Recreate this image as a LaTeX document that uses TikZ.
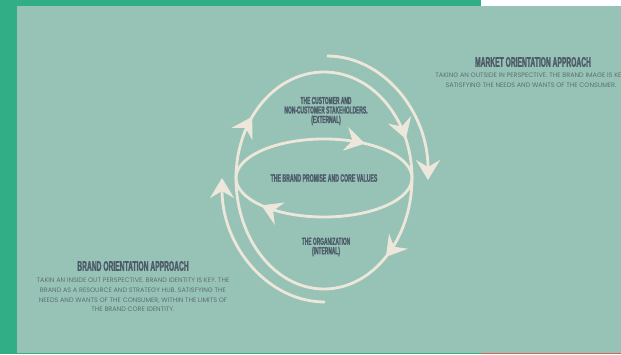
\documentclass[tikz,border=0pt]{standalone}
\usepackage{fontspec}
\setmainfont{Poppins}
\newfontfamily\headfont{Liberation Sans}[FakeStretch=0.48,BoldFeatures={FakeBold=1.6}]
\usetikzlibrary{arrows.meta,decorations.markings,shapes.geometric}
\definecolor{panel}{HTML}{97C3B7}
\definecolor{frame}{HTML}{32AE86}
\definecolor{cream}{HTML}{EDE7DB}
\definecolor{ink}{HTML}{4E5C6A}
\definecolor{bodyink}{HTML}{5E6E72}
\definecolor{accent}{HTML}{D0665A}
\tikzset{
  flowtip/.tip={Stealth[length=20bp,width=24bp,inset=7bp]},
  loop/.style={color=cream,line width=2.8bp},
  heading/.style={text=ink,inner sep=0,align=center,
    font=\headfont\bfseries\fontsize{14}{14}\selectfont},
  circlelabel/.style={text=ink,inner sep=0,align=center,
    font=\headfont\bfseries\fontsize{10.2}{9.5}\selectfont},
  bodytext/.style={text=bodyink,inner sep=0,align=center,
    font=\fontsize{6.5}{9.6}\selectfont},
}
\begin{document}
\begin{tikzpicture}[x=1bp,y=1bp]
\useasboundingbox (0,0) rectangle (621,354);
\clip (0,0) rectangle (621,354);
% frame and panel
\fill[frame] (0,0) rectangle (621,354);
\fill[white] (481,348) rectangle (621,354);
\fill[accent] (481,0) rectangle (621,1.5);
\fill[panel] (17.3,1.5) rectangle (621,348);

% core values ellipse
\node[ellipse,minimum width=176bp,minimum height=78bp,inner sep=0,outer sep=0,
  circlelabel,font=\headfont\bfseries\fontsize{10.8}{10.8}\selectfont]
  (core) at (324,176) {THE BRAND PROMISE AND CORE VALUES};
\draw[loop,postaction={decorate},decoration={markings,
    mark=at position 0.35 with {\arrow{flowtip}},
    mark=at position 0.905 with {\arrow{flowtip}}}]
  (core.west) arc[start angle=180,end angle=-180,x radius=88,y radius=39];

% external half loop
\draw[loop,postaction={decorate},decoration={markings,
    mark=at position 0.21 with {\arrow{flowtip}},
    mark=at position 0.87 with {\arrow{flowtip}}}]
  (core.west) arc[start angle=180,end angle=0,x radius=88,y radius=106];
% internal half loop
\draw[loop,postaction={decorate},decoration={markings,
    mark=at position 0.27 with {\arrow{flowtip}}}]
  (core.east) arc[start angle=0,end angle=-180,x radius=88,y radius=111];

% outer orientation arrows
\coordinate (mstart) at (327,298);
\coordinate (bstart) at (325,52);
\draw[loop,-flowtip] (mstart) arc[start angle=90,end angle=0,x radius=101,y radius=124];
\draw[loop,-flowtip] (bstart) arc[start angle=-90,end angle=-180,x radius=103,y radius=124];

% loop labels
\node[circlelabel] (ext) at (326,243) {THE CUSTOMER AND\\NON-CUSTOMER STAKEHOLDERS.\\(EXTERNAL)};
\node[circlelabel] (org) at (326,107) {THE ORGANIZATION\\(INTERNAL)};

% market orientation text
\node[heading] (mtitle) at (533,292) {MARKET ORIENTATION APPROACH};
\node[bodytext] (mtext) at (531,274) {TAKING AN OUTSIDE IN PERSPECTIVE. THE BRAND IMAGE IS KEY.\\SATISFYING THE NEEDS AND WANTS OF THE CONSUMER.};

% brand orientation text
\node[heading] (btitle) at (133,88) {BRAND ORIENTATION APPROACH};
\node[bodytext] (btext) at (133,59) {TAKIN AN INSIDE OUT PERSPECTIVE. BRAND IDENTITY IS KEY. THE\\BRAND AS A RESOURCE AND STRATEGY HUB. SATISFYING THE\\NEEDS AND WANTS OF THE CONSUMER, WITHIN THE LIMITS OF\\THE BRAND CORE IDENTITY.};
\end{tikzpicture}
\end{document}
